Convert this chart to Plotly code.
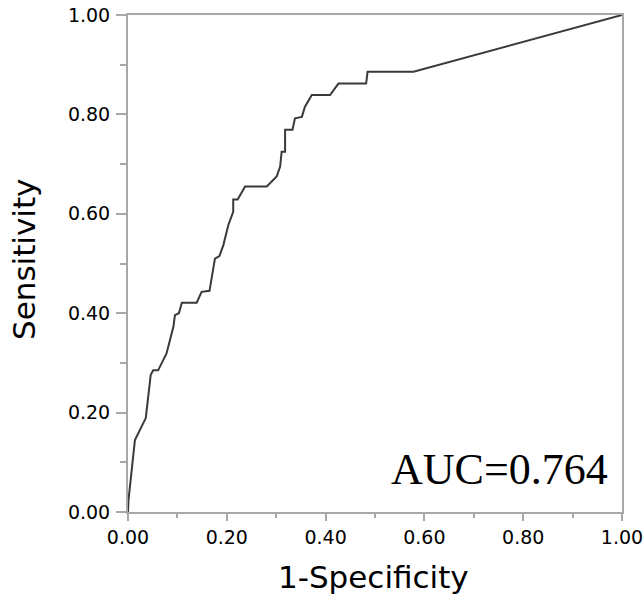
import plotly.graph_objects as go

fpr = [0.0, 0.001, 0.014, 0.036, 0.046, 0.051, 0.061, 0.078, 0.092, 0.095, 0.103, 0.109,
       0.139, 0.149, 0.165, 0.176, 0.185, 0.193, 0.203, 0.213, 0.213, 0.222, 0.237,
       0.281, 0.301, 0.308, 0.311, 0.318, 0.318, 0.333, 0.338, 0.352, 0.358, 0.372,
       0.409, 0.426, 0.482, 0.485, 0.578, 1.0]
tpr = [0.0, 0.024, 0.145, 0.189, 0.276, 0.285, 0.285, 0.319, 0.373, 0.396, 0.400, 0.421,
       0.421, 0.443, 0.445, 0.510, 0.515, 0.537, 0.577, 0.604, 0.629, 0.629, 0.655,
       0.655, 0.675, 0.695, 0.725, 0.725, 0.769, 0.769, 0.792, 0.795, 0.815, 0.839,
       0.839, 0.862, 0.862, 0.886, 0.886, 1.0]
auc_text = "AUC=0.764"
x_title = "1-Specificity"
y_title = "Sensitivity"
tick_vals = [0, 0.2, 0.4, 0.6, 0.8, 1.0]
tick_text = ["0.00", "0.20", "0.40", "0.60", "0.80", "1.00"]

W, H = 644, 602
L, R, T, B = 128, 22, 15, 90
PW, PH = W - L - R, H - T - B
sans = "DejaVu Sans"

fig = go.Figure()
fig.add_trace(go.Scatter(x=fpr, y=tpr, mode="lines",
                         line=dict(color="#3a3a3a", width=2), showlegend=False,
                         cliponaxis=False))

axis_common = dict(
    range=[0, 1], tickvals=tick_vals, ticktext=tick_text, automargin=False,
    showgrid=False, zeroline=False, showline=True, mirror=True,
    linecolor="#a8a8a8", linewidth=2, ticks="outside",
    tickwidth=2, tickcolor="#a8a8a8",
    tickfont=dict(family=sans, size=19, color="#000"),
)
fig.update_xaxes(**axis_common, ticklen=7,
                 minor=dict(dtick=0.1, ticks="outside", ticklen=4, tickwidth=2, tickcolor="#a8a8a8"))
fig.update_yaxes(**axis_common, ticklen=10, ticklabelstandoff=2,
                 minor=dict(dtick=0.1, ticks="outside", ticklen=6, tickwidth=2, tickcolor="#a8a8a8"))

fig.add_annotation(x=0.975, y=0.085, xref="x", yref="y", text=auc_text, showarrow=False,
                   xanchor="right", yanchor="middle",
                   font=dict(family="Liberation Serif, DejaVu Serif", size=44, color="#000"))

# axis titles placed in pixel positions converted to paper coordinates
fig.add_annotation(x=(373 - L) / PW, y=(H - B - 577) / PH, xref="paper", yref="paper",
                   text=x_title, showarrow=False, xanchor="center", yanchor="middle",
                   font=dict(family=sans, size=31, color="#000"))
fig.add_annotation(x=(24 - L) / PW, y=(H - B - 260) / PH, xref="paper", yref="paper",
                   text=y_title, showarrow=False, xanchor="center", yanchor="middle",
                   textangle=-90, font=dict(family=sans, size=31, color="#000"))

fig.update_layout(width=W, height=H, plot_bgcolor="white", paper_bgcolor="white",
                  margin=dict(l=L, r=R, t=T, b=B))

fig.write_html("out.html", config={"displayModeBar": False},
               post_script="document.body.style.margin='0';")
